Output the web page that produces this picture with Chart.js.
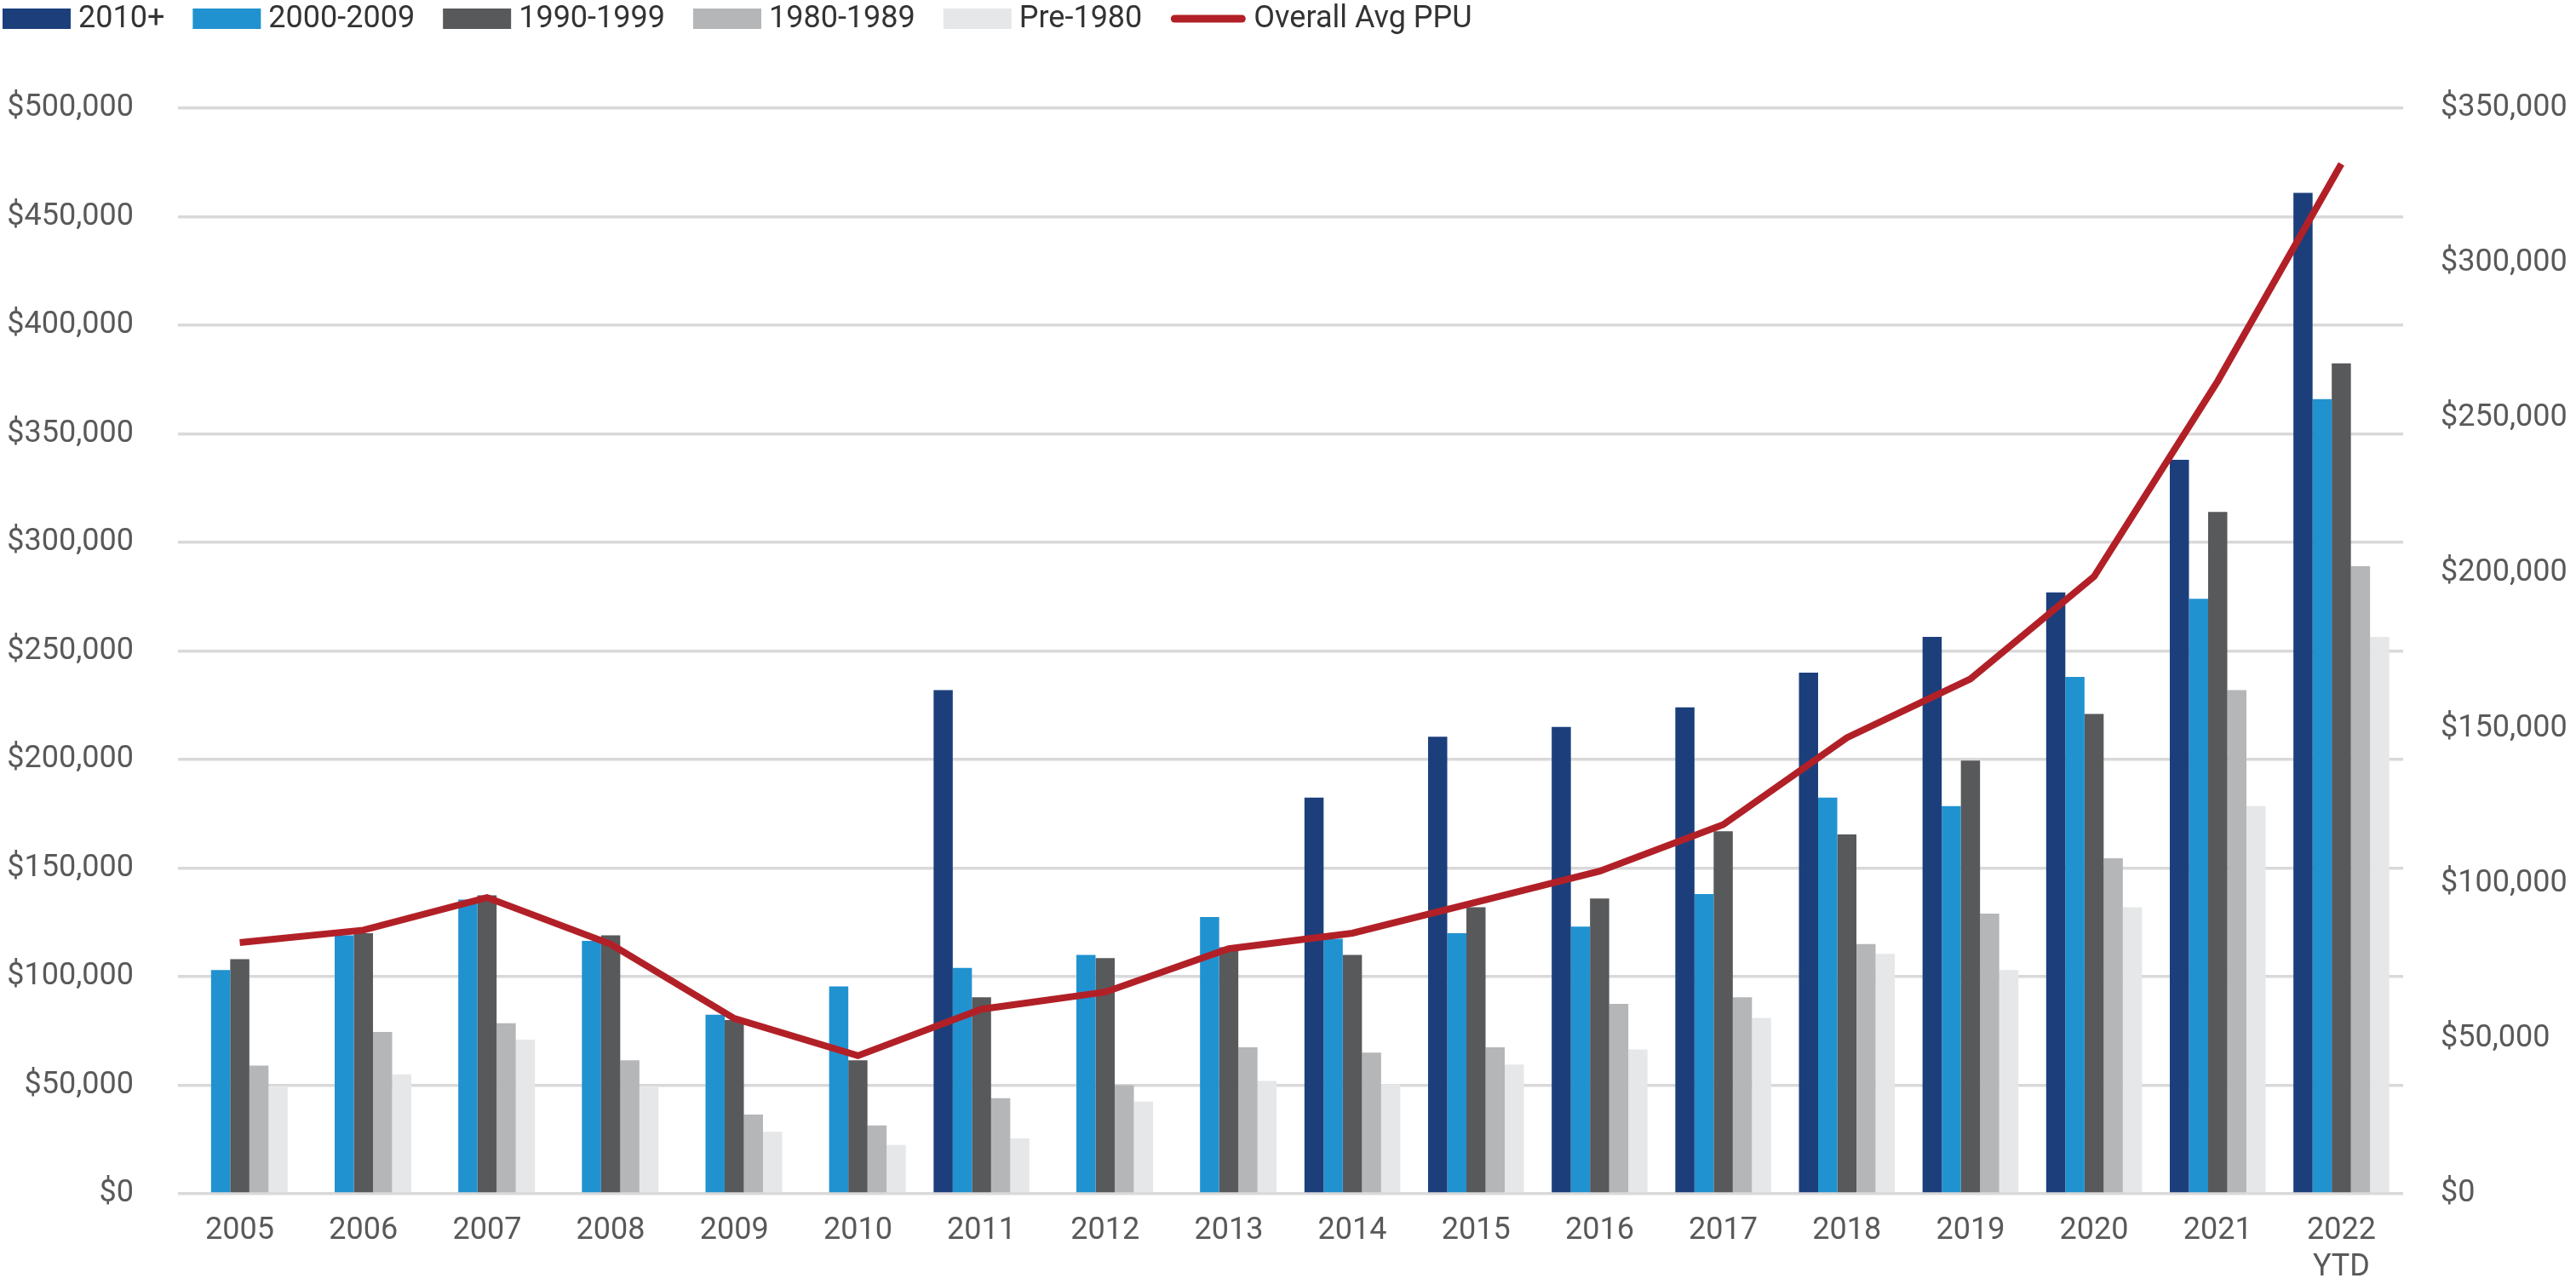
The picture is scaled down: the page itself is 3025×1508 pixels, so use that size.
<!DOCTYPE html>
<html>
<head>
<meta charset="utf-8">
<title>Avg PPU by vintage</title>
<script src="https://cdn.jsdelivr.net/npm/chart.js@4.4.1/dist/chart.umd.min.js"></script>
<style>
  html, body { margin: 0; padding: 0; background: #fff; }
  canvas { display: block; }
</style>
</head>
<body>
<canvas id="ppuChart" width="3025" height="1508"></canvas>
<script>
const years = ['2005', '2006', '2007', '2008', '2009', '2010', '2011', '2012', '2013',
  '2014', '2015', '2016', '2017', '2018', '2019', '2020', '2021', ['2022', 'YTD']];

// price per unit by vintage (left axis)
const built2010plus = [null, null, null, null, null, null, 232000, null, null,
  182500, 210500, 215000, 224000, 240000, 256500, 277000, 338000, 461000];
const built2000s = [103000, 119000, 135500, 116500, 82500, 95500, 104000, 110000, 127500,
  117500, 120000, 123000, 138000, 182500, 178500, 238000, 274000, 366000];
const built1990s = [108000, 120000, 137500, 119000, 80000, 61500, 90500, 108500, 113500,
  110000, 132000, 136000, 167000, 165500, 199500, 221000, 314000, 382500];
const built1980s = [59000, 74500, 78500, 61500, 36500, 31500, 44000, 50000, 67500,
  65000, 67500, 87500, 90500, 115000, 129000, 154500, 232000, 289000];
const builtPre1980 = [49000, 55000, 71000, 49000, 28500, 22500, 25500, 42500, 52000,
  50500, 59500, 66500, 81000, 110500, 103000, 132000, 178500, 256500];

// overall average (right axis)
const overallAvg = [81000, 85000, 95500, 80500, 56500, 44500, 59500, 65000, 79000,
  84000, 94000, 104000, 119000, 147000, 166000, 199000, 262000, 332000];

const leftTicks = { min: 0, max: 500000, step: 50000 };
const rightTicks = { min: 0, max: 350000, step: 50000 };

const tickColor = '#595959';
const fontFamily = 'Roboto, "Open Sans", sans-serif';

const money = v => '$' + Number(v).toLocaleString('en-US');

// legend drawn along the top edge, same order as the datasets
const topLegend = {
  id: 'topLegend',
  afterDraw(chart) {
    const ctx = chart.ctx;
    ctx.save();
    ctx.font = '36px ' + fontFamily;
    ctx.textBaseline = 'middle';
    let x = 3;
    const midY = 22;
    chart.data.datasets.forEach(ds => {
      let markW;
      if (ds.type === 'line') {
        markW = 89;
        ctx.strokeStyle = ds.borderColor;
        ctx.lineWidth = 9;
        ctx.lineCap = 'round';
        ctx.beginPath();
        ctx.moveTo(x + 5, midY);
        ctx.lineTo(x + markW - 5, midY);
        ctx.stroke();
      } else {
        markW = 80;
        ctx.fillStyle = ds.backgroundColor;
        ctx.fillRect(x, midY - 12, markW, 24);
      }
      ctx.fillStyle = '#333';
      ctx.fillText(ds.label, x + markW + 9, midY + 1);
      x += markW + 9 + ctx.measureText(ds.label).width + 33;
    });
    ctx.restore();
  }
};

const ctx = document.getElementById('ppuChart').getContext('2d');

const ppuChart = new Chart(ctx, {
  type: 'bar',
  data: {
    labels: years,
    datasets: [
      { label: '2010+', data: built2010plus, backgroundColor: '#1c3f7c', yAxisID: 'y', order: 1 },
      { label: '2000-2009', data: built2000s, backgroundColor: '#2192d0', yAxisID: 'y', order: 1 },
      { label: '1990-1999', data: built1990s, backgroundColor: '#58595b', yAxisID: 'y', order: 1 },
      { label: '1980-1989', data: built1980s, backgroundColor: '#b5b6b8', yAxisID: 'y', order: 1 },
      { label: 'Pre-1980', data: builtPre1980, backgroundColor: '#e6e7e8', yAxisID: 'y', order: 1 },
      {
        type: 'line',
        label: 'Overall Avg PPU',
        data: overallAvg,
        borderColor: '#b22027',
        backgroundColor: '#b22027',
        borderWidth: 8,
        pointRadius: 0,
        tension: 0,
        yAxisID: 'y1',
        order: 0
      }
    ]
  },
  options: {
    responsive: false,
    animation: false,
    devicePixelRatio: 1,
    categoryPercentage: 0.775,
    barPercentage: 1.0,
    layout: { padding: { top: 127, left: 0, right: 0, bottom: 0 } },
    plugins: {
      legend: { display: false },
      tooltip: { enabled: false }
    },
    scales: {
      x: {
        grid: { display: false, drawTicks: false },
        border: { display: false },
        ticks: {
          color: tickColor,
          font: { family: fontFamily, size: 36 },
          padding: 22,
          maxRotation: 0,
          autoSkip: false
        },
        afterFit(scale) { scale.height = 106; }
      },
      y: {
        position: 'left',
        min: leftTicks.min,
        max: leftTicks.max,
        grid: { color: '#d9d9d9', lineWidth: 3.5, drawTicks: false },
        border: { display: false },
        ticks: {
          stepSize: leftTicks.step,
          color: tickColor,
          font: { family: fontFamily, size: 36 },
          padding: 52,
          callback: money
        },
        afterFit(scale) { scale.width = 209; }
      },
      y1: {
        position: 'right',
        min: rightTicks.min,
        max: rightTicks.max,
        grid: { display: false, drawTicks: false },
        border: { display: false },
        ticks: {
          stepSize: rightTicks.step,
          color: tickColor,
          font: { family: fontFamily, size: 36 },
          padding: 44,
          callback: money
        },
        afterFit(scale) { scale.width = 203; }
      }
    }
  },
  plugins: [topLegend]
});
</script>
</body>
</html>
